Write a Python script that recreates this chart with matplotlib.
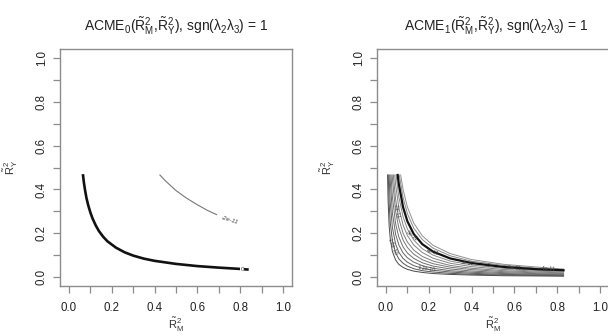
import matplotlib
matplotlib.use("Agg")
import matplotlib.pyplot as plt
import numpy as np

plt.rcParams['font.family'] = ['Liberation Sans', 'DejaVu Sans']
plt.rcParams['mathtext.fontset'] = 'custom'
plt.rcParams['mathtext.rm'] = 'Liberation Sans'
plt.rcParams['mathtext.it'] = 'Liberation Sans'
plt.rcParams['mathtext.bf'] = 'Liberation Sans:bold'

# left panel: level 0 (thick) and level -2e-11 (thin)
left_zero_x = [0.065, 0.070, 0.075, 0.082, 0.09, 0.10, 0.11, 0.125, 0.14, 0.16, 0.18, 0.22, 0.26,
               0.30, 0.35, 0.40, 0.50, 0.60, 0.70, 0.80, 0.84]
left_zero_y = [0.470, 0.430, 0.398, 0.360, 0.328, 0.295, 0.268, 0.236, 0.210, 0.184, 0.163, 0.134, 0.113,
               0.098, 0.084, 0.074, 0.060, 0.050, 0.043, 0.037, 0.034]
left_neg_x = [0.425, 0.45, 0.50, 0.55, 0.60, 0.65, 0.69]
left_neg_y = [0.466, 0.440, 0.395, 0.360, 0.330, 0.303, 0.285]

# right panel: family of contour lines, sampled on a shared x grid
right_grid_x = [0.01, 0.015, 0.02, 0.03, 0.045, 0.06, 0.08, 0.10, 0.13, 0.17, 0.22, 0.30, 0.40, 0.55, 0.70, 0.83]
right_top_y = 0.466
right_top_x = [0.0075, 0.0107, 0.0146, 0.0189, 0.0236, 0.029, 0.0343, 0.0408, 0.0472, 0.0547, 0.0622, 0.0687]
nan = np.nan
right_curves_y = [
    [0.350, 0.233, 0.175, 0.117, 0.078, 0.058, 0.044, 0.035, 0.027, 0.021, 0.016, 0.012, 0.009, 0.006, 0.005, 0.004],
    [nan, 0.333, 0.250, 0.167, 0.111, 0.083, 0.063, 0.050, 0.038, 0.029, 0.023, 0.017, 0.0125, 0.009, 0.007, 0.006],
    [nan, 0.453, 0.340, 0.227, 0.151, 0.113, 0.085, 0.068, 0.052, 0.040, 0.031, 0.023, 0.017, 0.012, 0.010, 0.008],
    [nan, nan, 0.440, 0.293, 0.196, 0.147, 0.110, 0.088, 0.068, 0.052, 0.040, 0.029, 0.022, 0.016, 0.0126, 0.0106],
    [nan, nan, nan, 0.367, 0.244, 0.183, 0.1375, 0.110, 0.085, 0.065, 0.050, 0.037, 0.0275, 0.020, 0.0157, 0.0133],
    [nan, nan, nan, 0.450, 0.300, 0.225, 0.169, 0.135, 0.104, 0.079, 0.061, 0.045, 0.034, 0.0245, 0.0193, 0.0163],
    [nan, nan, nan, nan, 0.356, 0.267, 0.200, 0.160, 0.123, 0.094, 0.073, 0.053, 0.040, 0.029, 0.023, 0.019],
    [nan, nan, nan, nan, 0.422, 0.317, 0.2375, 0.190, 0.146, 0.112, 0.086, 0.063, 0.0475, 0.0345, 0.027, 0.023],
    [nan, nan, nan, nan, nan, 0.367, 0.275, 0.220, 0.169, 0.129, 0.100, 0.073, 0.055, 0.040, 0.031, 0.0265],
    [nan, nan, nan, nan, nan, 0.425, 0.319, 0.255, 0.196, 0.150, 0.116, 0.085, 0.064, 0.046, 0.036, 0.031],
    [nan, nan, nan, nan, nan, nan, 0.3625, 0.290, 0.223, 0.171, 0.132, 0.097, 0.0725, 0.053, 0.041, 0.035],
    [nan, nan, nan, nan, nan, nan, 0.400, 0.320, 0.246, 0.188, 0.145, 0.107, 0.080, 0.058, 0.046, 0.036],
]
right_black_index = 9
right_labels = ['1.6e-10', '-2e-11', '8e-11', '4e-11', '1.2e-10', '2e-11', '0', '-2e-11', '-4e-11']
right_label_x = [0.030, 0.050, 0.120, 0.220, 0.190, 0.380, 0.480, 0.600, 0.760]
right_label_y = [0.140, 0.300, 0.190, 0.115, 0.040, 0.062, 0.050, 0.043, 0.037]
right_label_rot = [-68, -80, -38, -15, -8, -6, -5, -4, -3]

ticks = np.round(np.arange(0, 1.01, 0.1), 1)
tick_labels = ['%.1f' % t if i % 2 == 0 else '' for i, t in enumerate(ticks)]

fig = plt.figure(figsize=(6.08, 3.36), dpi=100)
W, H = 608.0, 336.0
ax1 = fig.add_axes([60.4 / W, 1 - 285.8 / H, 231.1 / W, 236.5 / H])
ax2 = fig.add_axes([377.4 / W, 1 - 285.8 / H, 231.1 / W, 236.5 / H])

box_col = '#8c8c8c'
for ax in (ax1, ax2):
    ax.set_xlim(-0.04, 1.04)
    ax.set_ylim(-0.04, 1.04)
    for s in ax.spines.values():
        s.set_color(box_col)
        s.set_linewidth(1.0)
    ax.set_xticks(ticks)
    ax.set_xticklabels(tick_labels)
    ax.set_yticks(ticks)
    ax.set_yticklabels(tick_labels, rotation=90, va='center')
    ax.tick_params(axis='both', direction='out', length=5, width=0.9, color=box_col,
                   labelsize=8.3, labelcolor='#222222')
    ax.tick_params(axis='x', pad=7)
    ax.tick_params(axis='y', pad=4)
    ax.set_xlabel(r'$\tilde{\mathrm{R}}^2_{\mathrm{M}}$', fontsize=8, color='#333333')
    ax.set_ylabel(r'$\tilde{\mathrm{R}}^2_{\mathrm{Y}}$', fontsize=8, color='#333333')
    ax.xaxis.set_label_coords(0.5, -0.125)
    ax.yaxis.set_label_coords(-0.175, 0.5)

# left panel
ax1.plot(left_zero_x, left_zero_y, color='#111111', lw=1.9, solid_capstyle='butt')
ax1.plot(left_neg_x, left_neg_y, color='#777777', lw=0.8)
ax1.text(0.75, 0.262, '-2e-11', fontsize=4.5, rotation=-17, color='#444444',
         ha='center', va='center', style='italic')
ax1.text(0.81, 0.036, '0', fontsize=4.5, color='#444444', ha='center', va='center',
         bbox=dict(facecolor='white', edgecolor='none', pad=0.3))

# right panel
grays = ['#4a4a4a', '#555555', '#5e5e5e', '#666666', '#6e6e6e', '#767676',
         '#7c7c7c', '#828282', '#888888', '#000000', '#8a8a8a', '#909090']
for i, (tx, cy) in enumerate(zip(right_top_x, right_curves_y)):
    cy = np.array(cy, dtype=float)
    gx = np.array(right_grid_x)
    ok = ~np.isnan(cy)
    xs = np.concatenate([[tx], gx[ok]])
    ys = np.concatenate([[right_top_y], cy[ok]])
    if i == right_black_index:
        ax2.plot(xs, ys, color='#111111', lw=1.6, zorder=3)
    else:
        ax2.plot(xs, ys, color=grays[i], lw=0.7, zorder=2)
for lab, lx, ly, lr in zip(right_labels, right_label_x, right_label_y, right_label_rot):
    ax2.text(lx, ly, lab, fontsize=3.8, rotation=lr, color='#444444',
             ha='center', va='center', zorder=4)

fig.text(176 / W, 1 - 26 / H,
         r'ACME$_0$($\tilde{\mathrm{R}}^2_{\mathrm{M}}$,$\tilde{\mathrm{R}}^2_{\mathrm{Y}}$), sgn($\lambda_2\lambda_3$) = 1',
         fontsize=10, ha='center', va='center', color='#222222')
fig.text(496 / W, 1 - 26 / H,
         r'ACME$_1$($\tilde{\mathrm{R}}^2_{\mathrm{M}}$,$\tilde{\mathrm{R}}^2_{\mathrm{Y}}$), sgn($\lambda_2\lambda_3$) = 1',
         fontsize=10, ha='center', va='center', color='#222222')

fig.savefig('out.png', dpi=100)
